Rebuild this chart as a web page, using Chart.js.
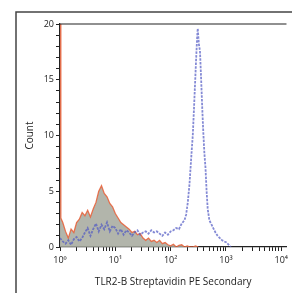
<!DOCTYPE html>
<html>
<head>
<meta charset="utf-8">
<script src="https://cdn.jsdelivr.net/npm/chart.js@4/dist/chart.umd.min.js"></script>
<style>
  html, body { margin: 0; padding: 0; background: #fff; }
  #wrap { width: 292px; height: 293px; position: relative; }
</style>
</head>
<body>
<div id="wrap"><canvas id="chart"></canvas></div>
<script>
// decade tick labels on the log axis
const decadeLabels = ['10\u2070', '10\u00b9', '10\u00b2', '10\u00b3', '10\u2074'];
const yLabels = [0, 5, 10, 15, 20];

// isotype control (grey fill, orange outline): log10 intensity / count
const controlExp = [0.00, 0.015, 0.05, 0.10, 0.15, 0.20, 0.25, 0.30, 0.35, 0.40, 0.45, 0.50, 0.55, 0.60,
    0.65, 0.70, 0.75, 0.80, 0.85, 0.90, 0.95, 1.00, 1.05, 1.10, 1.15, 1.20, 1.25, 1.30, 1.35, 1.40,
    1.45, 1.50, 1.55, 1.60, 1.65, 1.70, 1.75, 1.80, 1.85, 1.90, 1.95, 2.00, 2.05, 2.10, 2.15, 2.20,
    2.25, 2.30, 2.35, 2.40, 2.45, 2.50];
const controlCount = [24, 2.6, 2.2, 1.4, 0.8, 1.6, 1.3, 2.2, 2.5, 3.1, 2.8, 3.3, 2.7, 3.4,
    4.0, 5.0, 5.5, 4.8, 4.5, 3.9, 3.6, 3.0, 2.6, 2.2, 2.0, 1.8, 1.6, 1.3, 1.4, 1.1,
    1.2, 0.8, 0.6, 0.8, 0.5, 0.6, 0.4, 0.6, 0.3, 0.4, 0.2, 0.1, 0.25, 0, 0.15, 0.2,
    0, 0.1, 0, 0, 0.1, 0];

// TLR2-B stained sample (blue dashed outline)
const sampleExp = [0.00, 0.05, 0.10, 0.15, 0.20, 0.25, 0.30, 0.35, 0.40, 0.45, 0.50, 0.55, 0.60, 0.65,
    0.70, 0.75, 0.80, 0.85, 0.90, 0.95, 1.00, 1.05, 1.10, 1.15, 1.20, 1.25, 1.30, 1.35, 1.40, 1.45,
    1.50, 1.55, 1.60, 1.65, 1.70, 1.75, 1.80, 1.85, 1.90, 1.95, 2.00, 2.05, 2.10, 2.15, 2.20, 2.25,
    2.28, 2.31, 2.34, 2.36, 2.38, 2.40, 2.42, 2.44, 2.46, 2.48, 2.49, 2.51, 2.53, 2.55, 2.57, 2.59,
    2.61, 2.63, 2.65, 2.67, 2.70, 2.74, 2.77, 2.81, 2.85, 2.89, 2.93, 2.97, 3.01, 3.05, 3.09];
const sampleCount = [0.8, 0.5, 0.3, 0.6, 0.2, 0.7, 0.9, 0.5, 0.8, 1.3, 1.7, 1.0, 1.6, 2.1,
    1.4, 2.0, 1.6, 2.2, 1.4, 1.9, 1.7, 1.2, 1.6, 1.1, 1.5, 1.3, 1.0, 1.3, 1.5, 1.1,
    1.3, 1.4, 1.2, 1.5, 1.3, 1.4, 1.2, 1.0, 1.3, 1.1, 1.4, 1.5, 1.7, 1.6, 2.1, 2.4,
    2.9, 4.0, 5.6, 7.1, 8.6, 10.0, 12.2, 14.5, 16.8, 18.9, 19.6, 18.2, 17.6, 15.2, 12.6, 10.3,
    8.4, 7.1, 5.0, 3.4, 2.4, 2.0, 1.7, 1.3, 1.0, 0.8, 0.6, 0.5, 0.4, 0.2, 0];

function toPoints(exps, counts) {
    return exps.map((e, i) => ({x: Math.pow(10, e), y: counts[i]}));
}

// outer frame + top border of the plot
const framePlugin = {
    id: 'frame',
    afterDraw(chart) {
        const ctx = chart.ctx;
        const a = chart.chartArea;
        ctx.save();
        ctx.strokeStyle = '#444';
        ctx.lineWidth = 1.5;
        ctx.beginPath();
        ctx.moveTo(16, 293);
        ctx.lineTo(16, 12);
        ctx.lineTo(292, 12);
        ctx.stroke();
        ctx.strokeStyle = '#222';
        ctx.lineWidth = 1.2;
        ctx.beginPath();
        ctx.moveTo(a.left, a.top);
        ctx.lineTo(a.right, a.top);
        ctx.stroke();
        ctx.restore();
    }
};

const font = {family: "'Open Sans', 'Noto Sans', sans-serif", size: 9};

new Chart(document.getElementById('chart'), {
    type: 'line',
    data: {
        datasets: [
            {
                label: 'TLR2-B',
                data: toPoints(sampleExp, sampleCount),
                borderColor: 'rgba(80, 88, 195, 0.7)',
                borderWidth: 1.8,
                borderDash: [2.5, 1.2],
                pointRadius: 0,
                fill: false,
                order: 0
            },
            {
                label: 'Control',
                data: toPoints(controlExp, controlCount),
                borderColor: 'rgba(232, 95, 55, 0.85)',
                backgroundColor: 'rgba(165, 168, 156, 0.85)',
                borderWidth: 1.3,
                pointRadius: 0,
                fill: 'origin',
                order: 1
            }
        ]
    },
    options: {
        responsive: true,
        maintainAspectRatio: false,
        animation: false,
        layout: {padding: {left: 16, top: 24, right: 0, bottom: 0}},
        plugins: {legend: {display: false}, tooltip: {enabled: false}},
        scales: {
            x: {
                type: 'logarithmic',
                min: 1,
                max: Math.pow(10, 4.094),
                afterFit: function (scale) { scale.height = 46; },
                afterBuildTicks: function (scale) {
                    const t = [];
                    for (let d = 1; d <= 10000; d *= 10) {
                        for (let m = 1; m <= 9; m++) {
                            if (d * m <= scale.max) t.push({value: d * m});
                        }
                    }
                    scale.ticks = t;
                },
                ticks: {
                    autoSkip: false,
                    maxRotation: 0,
                    padding: 4,
                    color: '#222',
                    font: font,
                    callback: function (v) {
                        const e = Math.log10(v);
                        if (Math.abs(e - Math.round(e)) < 1e-6) return decadeLabels[Math.round(e)];
                        return '';
                    }
                },
                grid: {display: true, drawOnChartArea: false, tickLength: 4, color: '#222', tickColor: '#222'},
                border: {display: true, color: '#222', width: 1.2},
                title: {display: true, text: 'TLR2-B Streptavidin PE Secondary', color: '#222',
                    font: {family: font.family, size: 10}, padding: {top: 4, bottom: 5}}
            },
            y: {
                min: 0,
                max: 20,
                afterFit: function (scale) { scale.width = 44; },
                ticks: {
                    stepSize: 1,
                    autoSkip: false,
                    padding: 2,
                    color: '#222',
                    font: font,
                    callback: function (v) { return yLabels.includes(v) ? String(v) : ''; }
                },
                grid: {display: true, drawOnChartArea: false, tickLength: 4, color: '#222', tickColor: '#222'},
                border: {display: true, color: '#222', width: 1.2},
                title: {display: true, text: 'Count', color: '#222',
                    font: {family: font.family, size: 10}, padding: {top: 8, bottom: 4}}
            }
        }
    },
    plugins: [framePlugin]
});
</script>
</body>
</html>
